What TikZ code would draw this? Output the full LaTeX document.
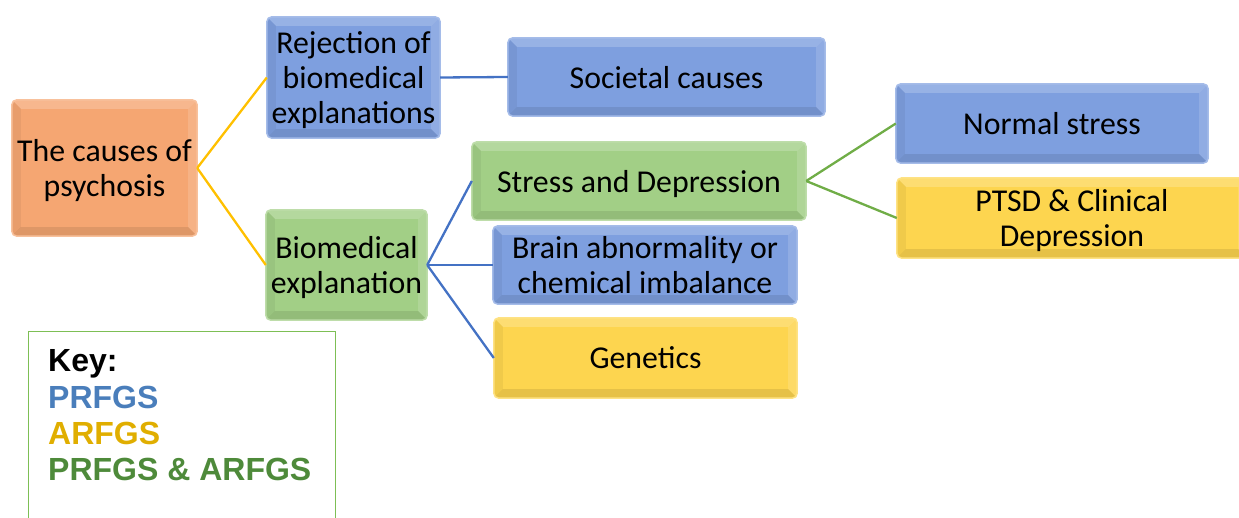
\documentclass[tikz,border=0pt]{standalone}
\usepackage{fontspec}
\setmainfont{Carlito}
\newfontfamily\keyfont{Liberation Sans}
\usetikzlibrary{backgrounds}

\definecolor{boxorange}{HTML}{F5A672}
\definecolor{boxblue}{HTML}{7E9FDF}
\definecolor{boxgreen}{HTML}{A2CF86}
\definecolor{boxyellow}{HTML}{FDD54F}
\definecolor{linegold}{HTML}{FFC000}
\definecolor{lineblue}{HTML}{4472C4}
\definecolor{linegreen}{HTML}{70AD47}
\definecolor{keyblue}{HTML}{4A7EBB}
\definecolor{keygold}{HTML}{E0AE00}
\definecolor{keygreen}{HTML}{4E8A3A}
\definecolor{keyframe}{HTML}{7DBF55}

\tikzset{
  box/.style={rectangle, inner sep=0pt, align=center, text=black,
              font=\fontsize{31.8}{35}\selectfont, text depth=0pt},
  boxtext/.style={yshift=-1.5pt},
  link/.style={line width=2.3pt},
  keytext/.style={anchor=base west, inner sep=0pt,
                  font=\keyfont\bfseries\fontsize{32}{36}\selectfont},
}

% filled, bevelled panel behind a named node
\newcommand\panel[2]{%
  \begin{scope}[on background layer]
    \fill[#2, rounded corners=5pt] (#1.north west) rectangle (#1.south east);
    \begin{scope}
      \clip[rounded corners=5pt] (#1.north west) rectangle (#1.south east);
      \fill[white, opacity=.2] (#1.north west) -- (#1.north east)
        -- ([shift={(-9,9)}]#1.north east) -- ([shift={(9,9)}]#1.north west) -- cycle;
      \fill[white, opacity=.14] (#1.north east) -- (#1.south east)
        -- ([shift={(-9,-9)}]#1.south east) -- ([shift={(-9,9)}]#1.north east) -- cycle;
      \fill[black, opacity=.09] (#1.south east) -- (#1.south west)
        -- ([shift={(9,-9)}]#1.south west) -- ([shift={(-9,-9)}]#1.south east) -- cycle;
      \fill[black, opacity=.05] (#1.south west) -- (#1.north west)
        -- ([shift={(9,9)}]#1.north west) -- ([shift={(9,-9)}]#1.south west) -- cycle;
    \end{scope}
    \draw[#2!70!white, line width=1.5pt, rounded corners=5pt]
      (#1.north west) rectangle (#1.south east);
  \end{scope}}

\begin{document}
\begin{tikzpicture}[x=1pt, y=-1pt]
  \useasboundingbox (0,0) rectangle (1239,518);
  \clip (0,0) rectangle (1239,518);

  % boxes
  \node[box, minimum width=185pt, minimum height=136pt] (root) at (104.5,168) {The causes of\\psychosis};
  \node[box, minimum width=173pt, minimum height=121pt] (rej) at (353.5,77.5) {Rejection of\\biomedical\\explanations};
  \node[box, minimum width=161pt, minimum height=110pt] (bio) at (346.5,265) {Biomedical\\explanation};
  \node[box, minimum width=317pt, minimum height=78pt] (soc) at (666.5,77) {Societal causes};
  \node[box, minimum width=334pt, minimum height=78pt] (sad) at (639,181) {Stress and Depression};
  \node[box, minimum width=304pt, minimum height=78pt] (brain) at (645,265) {Brain abnormality or\\chemical imbalance};
  \node[box, minimum width=303pt, minimum height=80pt] (gen) at (645.5,358) {Genetics};
  \node[box, minimum width=312pt, minimum height=79pt] (norm) at (1052,123.5) {Normal stress};
  \node[box, minimum width=350pt, minimum height=80pt] (ptsd) at (1072,218) {PTSD \& Clinical\\Depression};

  \panel{root}{boxorange}
  \panel{rej}{boxblue}
  \panel{bio}{boxgreen}
  \panel{soc}{boxblue}
  \panel{sad}{boxgreen}
  \panel{brain}{boxblue}
  \panel{gen}{boxyellow}
  \panel{norm}{boxblue}
  \panel{ptsd}{boxyellow}

  % connectors
  \draw[link, linegold] (root.east) -- (rej.west);
  \draw[link, linegold] (root.east) -- (bio.west);
  \draw[link, lineblue] (rej.east) -- (soc.west);
  \draw[link, lineblue] (bio.east) -- (sad.west);
  \draw[link, lineblue] (bio.east) -- (brain.west);
  \draw[link, lineblue] (bio.east) -- (gen.west);
  \draw[link, linegreen] (sad.east) -- (norm.west);
  \draw[link, linegreen] (sad.east) -- (ptsd.west);

  % key
  \node[draw=keyframe, line width=1.2pt, minimum width=307pt, minimum height=200pt,
        anchor=north west, inner sep=0pt] (keybox) at (28,331) {};
  \node[keytext, text=black] (k1) at (48,371) {Key:};
  \node[keytext, text=keyblue] (k2) at (48,408) {PRFGS};
  \node[keytext, text=keygold] (k3) at (48,444) {ARFGS};
  \node[keytext, text=keygreen] (k4) at (48,480) {PRFGS \& ARFGS};
\end{tikzpicture}
\end{document}
